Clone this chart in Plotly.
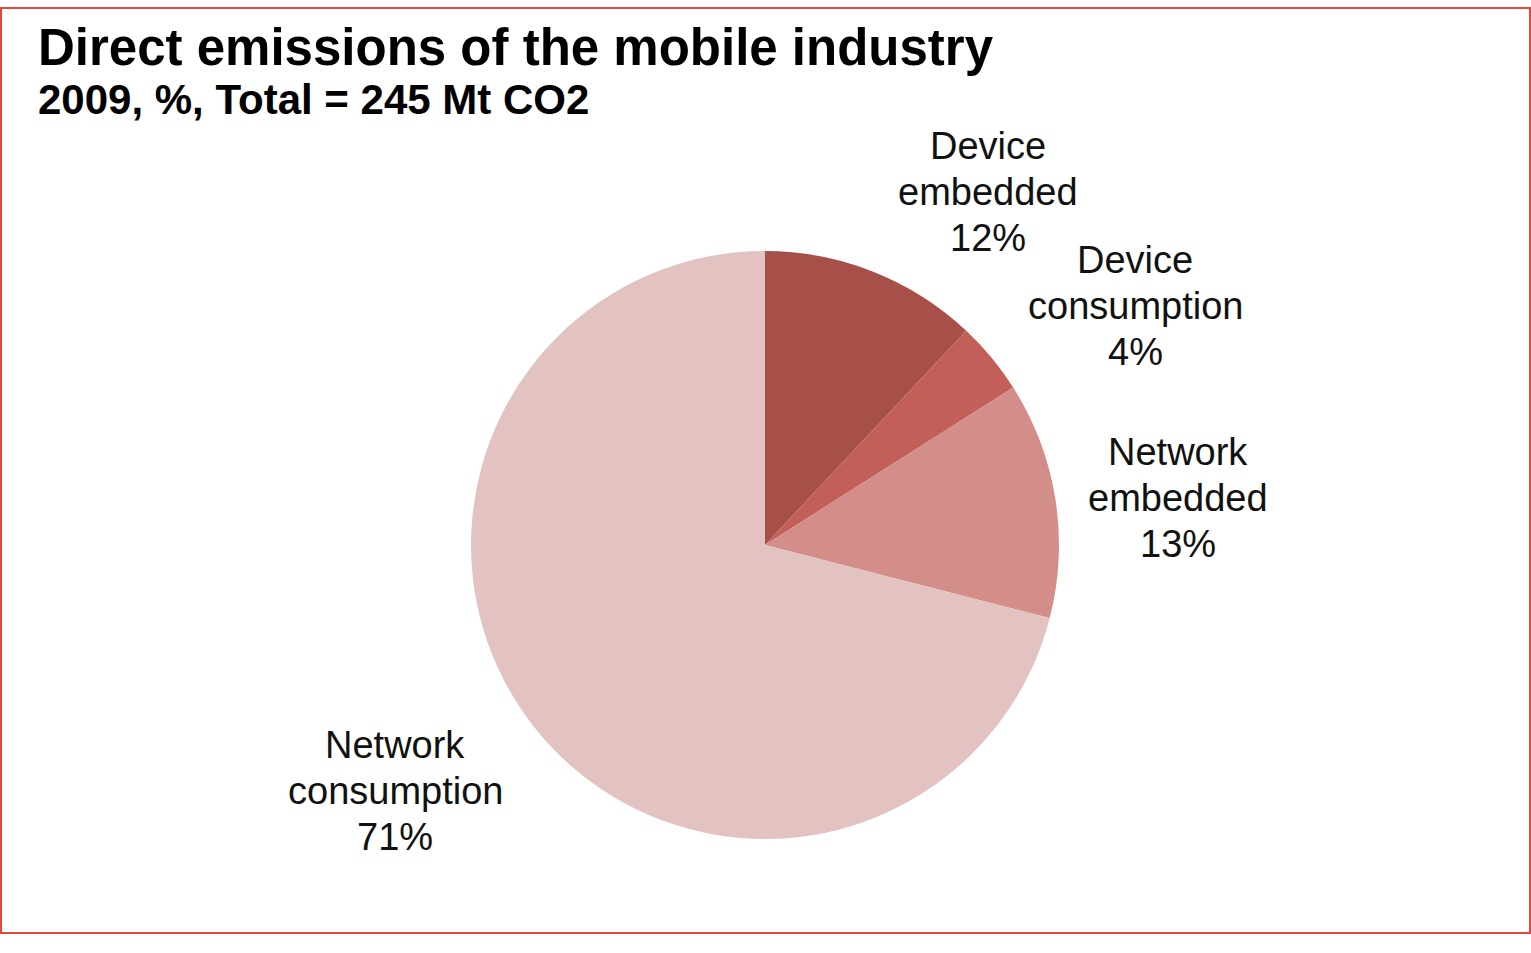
import plotly.graph_objects as go

categories = ["Device embedded", "Device consumption", "Network embedded", "Network consumption"]
label_lines = [["Device", "embedded"], ["Device", "consumption"], ["Network", "embedded"], ["Network", "consumption"]]
values = [12, 4, 13, 71]
colors = ["#A65049", "#C25F58", "#D48E8A", "#E3C3C1"]

title_text = "Direct emissions of the mobile industry"
subtitle_text = "2009, %, Total = 245 Mt CO2"

W, H = 1531, 953

def px(x):
    return x / W

def py(y):
    return 1 - y / H

fig = go.Figure()
fig.add_trace(go.Pie(
    labels=categories,
    values=values,
    sort=False,
    direction="clockwise",
    rotation=0,
    marker=dict(colors=colors, line=dict(width=0)),
    textinfo="none",
    hoverinfo="skip",
    showlegend=False,
    domain=dict(x=[px(470), px(1060)], y=[py(839), py(251)]),
))

label_pos = [(988, 192), (1135, 306), (1178, 498), (395, 791)]
line_gap = 46
annotations = []
for lines, v, (x, y) in zip(label_lines, values, label_pos):
    all_lines = lines + [f"{v}%"]
    for i, ln in enumerate(all_lines):
        annotations.append(dict(
            x=px(x), y=py(y + (i - 1) * line_gap), xref="paper", yref="paper",
            text=ln, showarrow=False,
            xanchor="center", yanchor="middle", align="center",
            font=dict(family="Liberation Sans, Arial", size=38, color="#111111"),
        ))

annotations.append(dict(
    x=px(36), y=py(48), xref="paper", yref="paper",
    text=f"<b>{title_text}</b>", showarrow=False,
    xanchor="left", yanchor="middle", align="left",
    font=dict(family="Liberation Sans, Arial", size=51, color="#000000"),
))
annotations.append(dict(
    x=px(36), y=py(99), xref="paper", yref="paper",
    text=f"<b>{subtitle_text}</b>", showarrow=False,
    xanchor="left", yanchor="middle", align="left",
    font=dict(family="Liberation Sans, Arial", size=42, color="#000000"),
))

fig.update_layout(
    width=W, height=H,
    margin=dict(l=0, r=0, t=0, b=0),
    paper_bgcolor="#FFFFFF",
    plot_bgcolor="#FFFFFF",
    annotations=annotations,
    shapes=[dict(
        type="rect", xref="paper", yref="paper",
        x0=px(1), x1=px(1530), y0=py(933), y1=py(8),
        line=dict(color="#E04A3C", width=2),
    )],
)

fig.write_html("out.html", config={"displayModeBar": False},
               post_script="document.body.style.margin='0';")
